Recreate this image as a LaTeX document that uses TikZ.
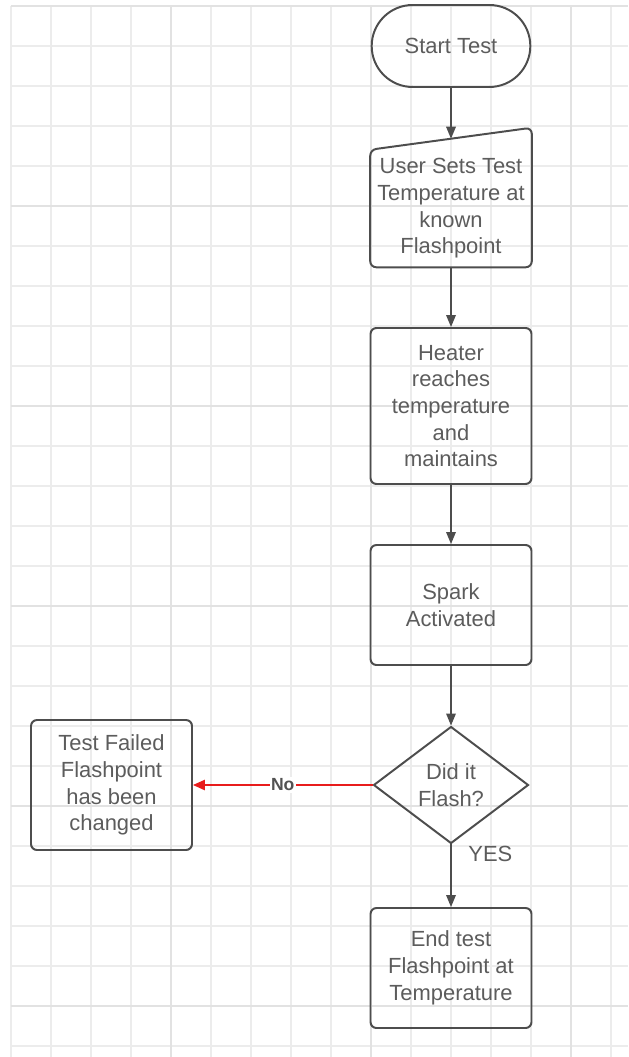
\documentclass[tikz,border=0pt]{standalone}
\usepackage{fontspec}
\setmainfont{Liberation Sans}
\usepackage{tikz}
\usetikzlibrary{positioning, arrows.meta, shapes.geometric, shapes.misc, calc}

\definecolor{linegray}{RGB}{77,77,77}
\definecolor{textgray}{RGB}{92,92,92}
\definecolor{gridgray}{RGB}{236,236,236}
\definecolor{gridmajor}{RGB}{226,226,226}
\definecolor{nored}{RGB}{232,28,28}

\begin{document}
\begin{tikzpicture}[
    every node/.style={font=\fontsize{15.6pt}{19pt}\selectfont, text=textgray, align=center},
    gridline/.style={draw=gridgray, line width=0.8pt},
    terminal/.style={rounded rectangle, draw=linegray, line width=1.4pt, minimum width=4.2cm, minimum height=2.05cm},
    process/.style={rectangle, rounded corners=0.15cm, draw=linegray, line width=1.4pt, minimum width=4.025cm},
    inputbox/.style={rectangle, minimum width=4.025cm, minimum height=2.925cm},
    decision/.style={diamond, draw=linegray, line width=1.4pt, minimum width=3.875cm, minimum height=2.925cm, inner sep=0pt},
    arrow/.style={-{Triangle[length=0.3cm, width=0.24cm]}, draw=linegray, line width=1pt},
    noarrow/.style={-{Triangle[length=0.3cm, width=0.26cm]}, draw=nored, line width=1pt}
]

\useasboundingbox (0,0) rectangle (15.7,-26.425);

% background grid
\begin{scope}[shift={(0.275,-0.15)}]
\draw[gridline, step=1cm] (0,0) grid (15.425,-26.275);
\foreach \x in {4,9,14}
    \draw[draw=gridmajor, line width=0.8pt] (\x,0) -- (\x,-26.275);
\foreach \y in {0,5,...,25}
    \draw[draw=gridmajor, line width=0.8pt] (0,-\y) -- (15.425,-\y);
\end{scope}

\node[terminal] (start) at (11.275, -1.15) {Start Test};

\node[inputbox] (input) at (11.275, -5.2125) {User Sets Test\\Temperature at\\known\\Flashpoint};
\draw[draw=linegray, line width=1.4pt, rounded corners=0.15cm] (input.south) -- (input.south east) -- ([yshift=0.55cm]input.north east) -- (input.north west) -- (input.south west) -- cycle;
\coordinate (inputtop) at ([yshift=0.275cm]input.north);

\node[process, minimum height=3.9cm] (heater) at (11.275, -10.15) {Heater\\reaches\\temperature\\and\\maintains};
\node[process, minimum height=3cm] (spark) at (11.275, -15.125) {Spark\\Activated};
\node[decision] (decide) at (11.275, -19.625) {Did it\\Flash?};
\node[process, minimum height=3.25cm] (fail) at (2.7875, -19.625) {Test Failed\\Flashpoint\\has been\\changed};
\node[process, minimum height=3cm] (finish) at (11.275, -24.2) {End test\\Flashpoint at\\Temperature};

\draw[arrow] (start.south) -- (inputtop);
\draw[arrow] (input.south) -- (heater.north);
\draw[arrow] (heater.south) -- (spark.north);
\draw[arrow] (spark.south) -- (decide.north);
\draw[noarrow] (decide.west) -- node[fill=white, inner sep=1pt, text=black!68, font=\fontsize{12.5pt}{15pt}\selectfont\bfseries] (nolabel) {No} (fail.east);
\draw[arrow] (decide.south) -- node[pos=0.15, right=0.3cm] (yeslabel) {YES} (finish.north);

\end{tikzpicture}
\end{document}
